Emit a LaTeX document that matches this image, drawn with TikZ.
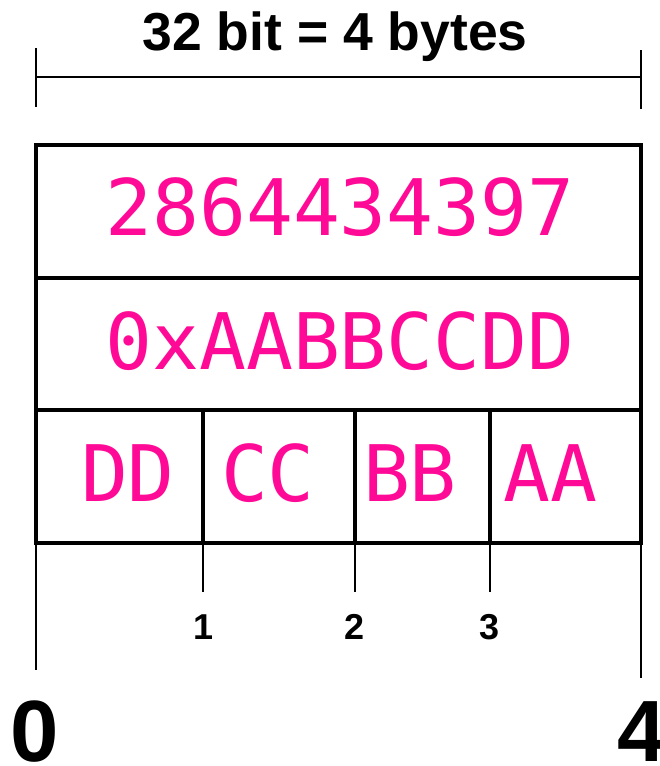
\documentclass[tikz,border=0pt]{standalone}
\usepackage{fontspec}
\setmainfont{Liberation Sans}
\newfontfamily\monofont{DejaVu Sans Mono}
\definecolor{hexpink}{RGB}{255,10,150}
\tikzset{
  frame/.style={line width=4pt, line cap=rect},
  sep/.style={line width=3.5pt},
  thinline/.style={line width=1.8pt},
  val/.style={inner sep=0pt, anchor=base, text=hexpink, font=\monofont\fontsize{78}{82}\selectfont},
  title/.style={inner sep=0pt, anchor=base, font=\bfseries\fontsize{53.5}{57}\selectfont},
  small/.style={inner sep=0pt, anchor=base, font=\bfseries\fontsize{36}{40}\selectfont},
  big/.style={inner sep=0pt, anchor=base, font=\bfseries\fontsize{87}{90}\selectfont}
}
\begin{document}
\begin{tikzpicture}[x=1pt,y=-1pt]
\useasboundingbox (0,0) rectangle (660,766);
% title and dimension line
\node[title] (ttl) at (335,50) {32 bit = 4 bytes};
\coordinate (dl) at (36,77);
\coordinate (dr) at (641,77);
\draw[thinline] (dl) -- (dr);
\draw[thinline] (36,48) -- (36,107);
\draw[thinline] (641,50) -- (641,109);
% frame
\coordinate (tl) at (36,145);
\coordinate (br) at (641,543);
\draw[sep] (36,278) -- (641,278);
\draw[sep] (36,410) -- (641,410);
\draw[sep] (203,410) -- (203,543);
\draw[sep] (355,410) -- (355,543);
\draw[sep] (490,410) -- (490,543);
\draw[frame] (tl) rectangle (br);
% values
\node[val] (dec) at (340,235) {2864434397};
\node[val] (hex) at (340,369) {0xAABBCCDD};
\node[val] (b0) at (128,501) {DD};
\node[val] (b1) at (268,501) {CC};
\node[val] (b2) at (410,501) {BB};
\node[val] (b3) at (550,501) {AA};
% ticks below
\draw[thinline] (36,543) -- (36,670);
\draw[thinline] (641,543) -- (641,678);
\draw[thinline] (203,543) -- (203,592);
\draw[thinline] (355,543) -- (355,592);
\draw[thinline] (490,543) -- (490,592);
\node[small] (l1) at (204,639) {1};
\node[small] (l2) at (355,639) {2};
\node[small] (l3) at (490,639) {3};
\node[big] (l0) at (35,761) {0};
\node[big] (l4) at (642,761) {4};
\end{tikzpicture}
\end{document}
